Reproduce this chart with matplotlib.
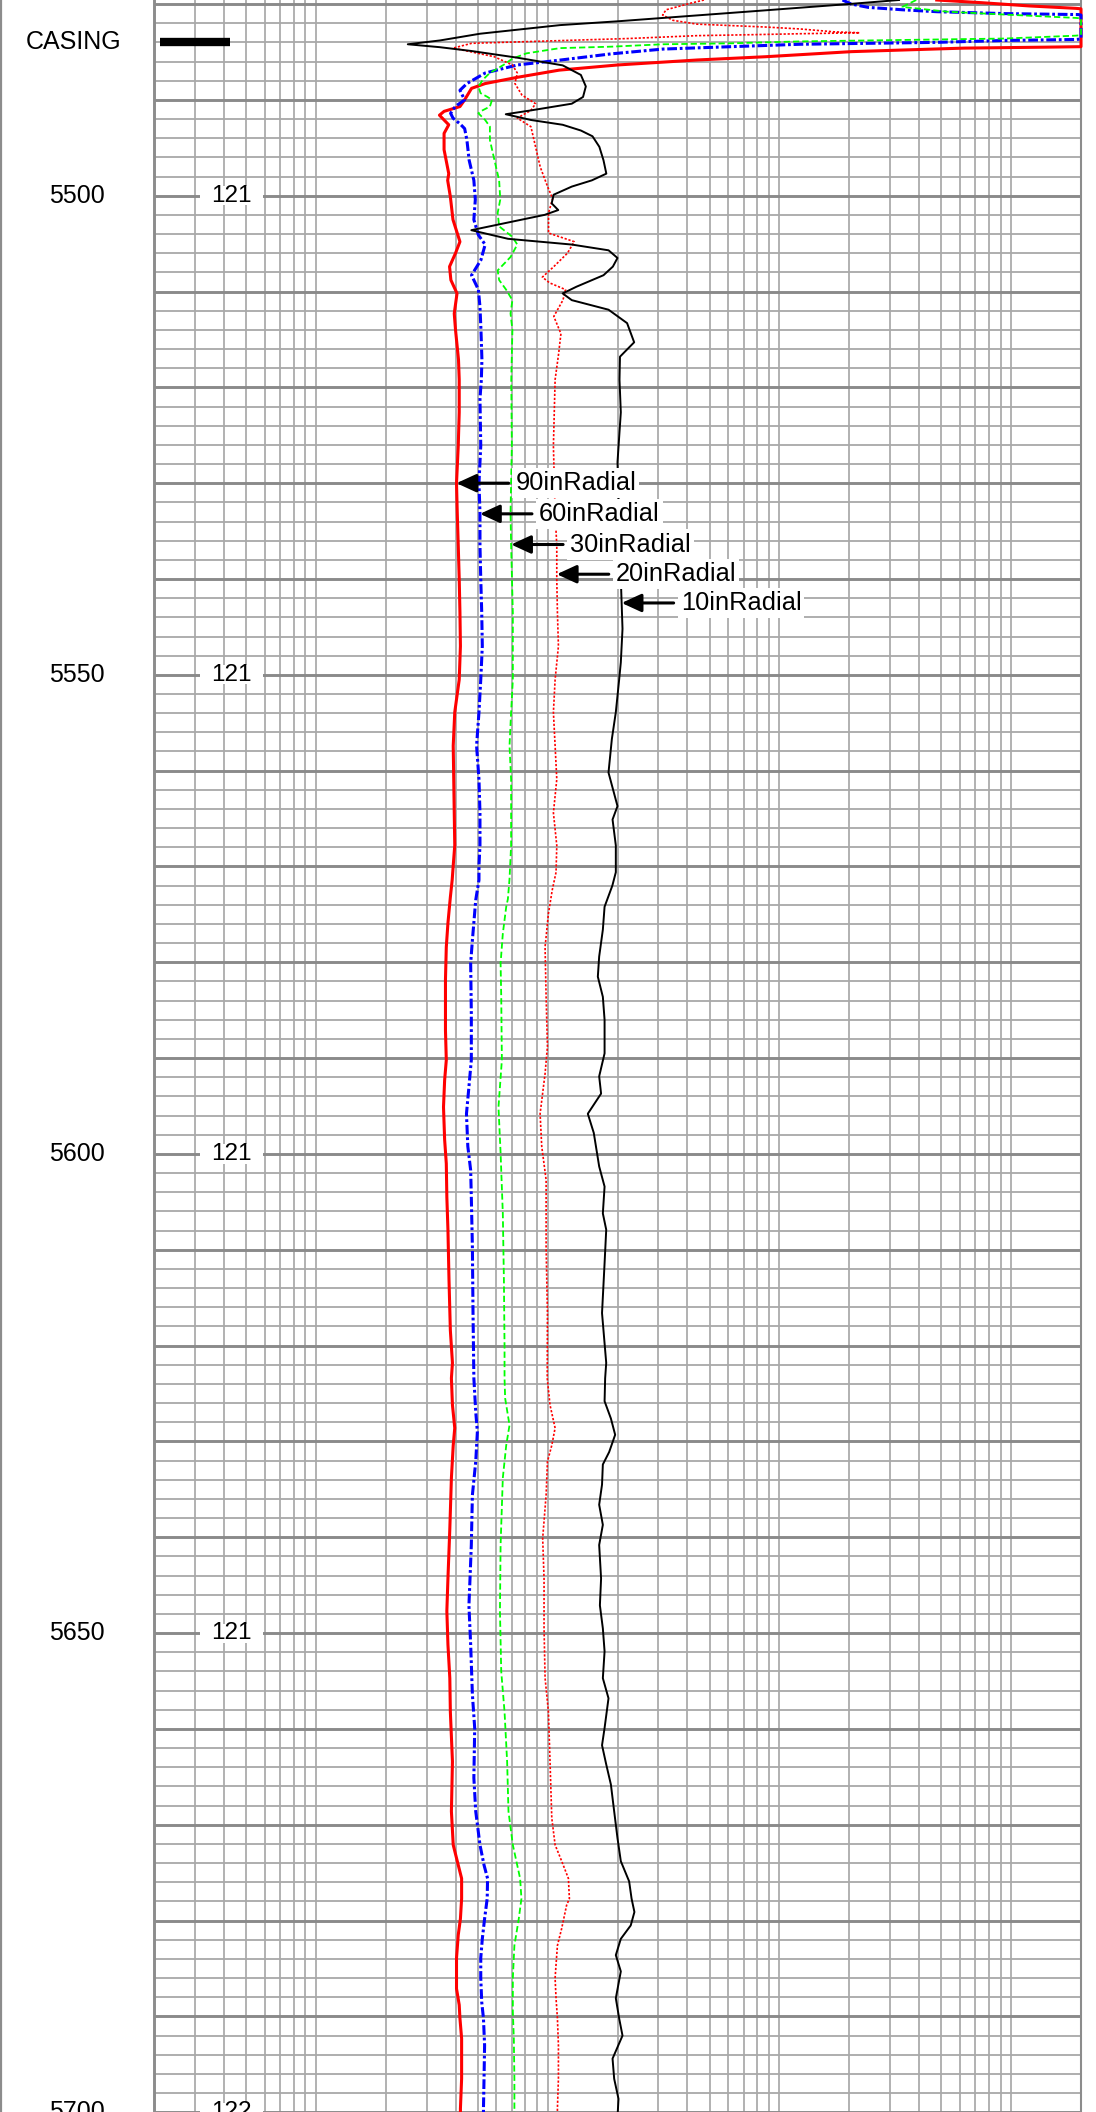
import numpy as np
import matplotlib
matplotlib.use("Agg")
import matplotlib.pyplot as plt
from matplotlib.patches import Rectangle
from matplotlib.transforms import blended_transform_factory

plt.rcParams['font.family'] = ['Liberation Sans', 'DejaVu Sans']
plt.rcParams['lines.scale_dashes'] = False

# ---------------- data ----------------
TOP_DEPTH, BOTTOM_DEPTH = 5479.58, 5699.97
X_MIN, X_MAX = 2, 20000

depth_labels = [5500, 5550, 5600, 5650, 5700]
side_labels = ['121', '121', '121', '121', '122']
casing_depth = 5484.0

curve_names = ['90inRadial', '60inRadial', '30inRadial', '20inRadial', '10inRadial']
label_depths = [5530.0, 5533.2, 5536.4, 5539.5, 5542.5]

depth_90 = [5479.58, 5479.86, 5480.2, 5480.45, 5480.5, 5484.45, 5484.5, 5484.6, 5484.8, 5484.97,
            5485.5, 5485.84, 5486.36, 5486.9, 5487.65, 5488.3, 5488.8, 5490.0, 5490.7, 5491.2,
            5491.6, 5492.1, 5492.6, 5493.5, 5495.2, 5497.7, 5498.4, 5500.1, 5502.5, 5504.8,
            5506.0, 5507.4, 5508.8, 5510.2, 5512.3, 5514.0, 5517.1, 5519.2, 5522.6, 5526.1,
            5530.0, 5533.1, 5536.5, 5540.0, 5543.5, 5547.0, 5550.5, 5553.9, 5557.4, 5560.9,
            5564.4, 5567.8, 5569.9, 5571.4, 5573.2, 5575.9, 5578.4, 5581.8, 5587.1, 5590.2,
            5592.3, 5595.1, 5598.5, 5601.0, 5604.5, 5607.9, 5613.2, 5618.4, 5621.8, 5623.4,
            5626.2, 5628.6, 5630.4, 5633.8, 5639.1, 5644.3, 5647.7, 5651.2, 5654.7, 5658.2,
            5663.4, 5668.6, 5672.1, 5674.2, 5675.6, 5677.7, 5679.8, 5681.5, 5683.9, 5687.1,
            5688.8, 5690.2, 5692.3, 5696.5, 5699.6, 5700.5]
res_90 = [4770, 7440, 11970, 19000, 20000, 20000, 14180, 6270, 3390, 2040,
          870, 441, 200, 112, 73.9, 53.7, 46.9, 43.8, 41.8, 35.7,
          34.1, 35.7, 37.4, 35.7, 35.7, 37.4, 37.0, 38.0, 39.0, 41.8,
          40.0, 37.7, 38.2, 40.6, 39.5, 40.0, 41.2, 41.5, 41.5, 41.1,
          40.4, 40.7, 41.1, 41.5, 41.8, 42.0, 41.5, 39.7, 39.1, 39.3,
          39.5, 39.7, 39.1, 38.7, 38.0, 37.1, 36.5, 36.2, 36.2, 36.5,
          35.9, 35.5, 35.9, 36.5, 36.7, 37.1, 37.5, 38.0, 38.8, 38.4,
          38.8, 39.7, 39.1, 38.4, 37.8, 37.1, 36.7, 37.1, 37.8, 38.0,
          38.8, 38.4, 39.1, 41.1, 42.5, 42.5, 42.0, 41.1, 40.4, 40.4,
          41.5, 41.8, 42.5, 42.5, 42.0, 42.0]

depth_60 = [5479.58, 5480.0, 5480.35, 5480.6, 5480.8, 5481.0, 5481.1, 5481.15, 5483.65, 5483.7,
            5483.8, 5484.0, 5484.1, 5484.2, 5484.45, 5484.7, 5485.2, 5485.84, 5486.36, 5487.2,
            5488.3, 5489.0, 5490.0, 5490.7, 5491.4, 5491.9, 5492.5, 5493.0, 5494.2, 5496.3,
            5498.4, 5500.4, 5502.5, 5504.1, 5505.1, 5506.7, 5508.3, 5509.8, 5511.6, 5514.0,
            5517.1, 5519.2, 5521.2, 5526.1, 5530.0, 5533.1, 5536.5, 5540.0, 5543.5, 5547.0,
            5550.5, 5553.9, 5557.4, 5560.9, 5564.4, 5567.8, 5569.9, 5571.4, 5573.5, 5577.7,
            5580.1, 5585.3, 5590.2, 5593.0, 5595.8, 5599.2, 5601.7, 5604.5, 5609.7, 5616.6,
            5623.4, 5626.9, 5629.0, 5632.1, 5635.6, 5640.8, 5644.3, 5647.1, 5651.2, 5656.4,
            5659.9, 5665.1, 5668.6, 5672.1, 5674.2, 5675.6, 5677.7, 5679.8, 5681.9, 5683.9,
            5686.0, 5688.5, 5690.2, 5693.0, 5696.5, 5699.6, 5700.5]
res_60 = [1870, 2040, 2415, 3390, 4770, 9410, 19500, 20000, 20000, 19000,
          9410, 4770, 2415, 1223, 619, 314, 188, 114, 73.9, 53.7,
          44.8, 41.8, 43.8, 39.9, 38.1, 39.0, 41.8, 43.8, 44.8, 45.8,
          48.0, 48.7, 48.0, 50.2, 53.7, 51.5, 46.9, 50.2, 51.0, 51.5,
          52.0, 51.7, 51.0, 51.4, 50.5, 51.0, 51.0, 51.4, 51.9, 52.2,
          51.4, 50.5, 49.3, 50.5, 51.0, 51.0, 50.5, 50.5, 48.9, 47.3,
          46.5, 46.8, 46.8, 45.7, 44.6, 45.2, 46.5, 46.8, 47.3, 47.6,
          48.0, 48.9, 49.7, 48.9, 47.3, 46.8, 46.2, 45.7, 46.5, 47.3,
          48.4, 48.0, 48.9, 51.0, 53.1, 55.0, 54.8, 53.4, 52.2, 51.4,
          51.4, 51.9, 52.8, 53.4, 53.1, 52.8, 52.8]

depth_30 = [5479.58, 5480.3, 5480.8, 5481.1, 5481.45, 5481.5, 5483.25, 5483.3, 5483.6, 5483.7,
            5483.8, 5483.9, 5484.1, 5484.2, 5484.45, 5484.6, 5485.15, 5485.7, 5486.36, 5487.2,
            5487.9, 5488.6, 5489.3, 5489.7, 5490.0, 5490.7, 5491.2, 5491.4, 5492.1, 5492.8,
            5494.2, 5496.3, 5498.4, 5500.4, 5501.8, 5503.2, 5504.3, 5505.1, 5506.4, 5507.8,
            5508.8, 5509.8, 5510.9, 5512.3, 5514.0, 5519.2, 5526.1, 5533.1, 5536.5, 5543.5,
            5550.5, 5553.9, 5557.4, 5560.9, 5567.8, 5571.3, 5573.4, 5574.2, 5577.0, 5580.1,
            5583.6, 5590.2, 5595.1, 5599.9, 5606.2, 5613.2, 5620.1, 5623.4, 5625.5, 5628.3,
            5630.4, 5633.8, 5640.8, 5647.7, 5654.0, 5658.2, 5663.4, 5668.6, 5672.1, 5675.6,
            5677.7, 5679.8, 5682.6, 5686.0, 5689.5, 5692.3, 5696.5, 5700.5]
res_30 = [3890, 3390, 5280, 9410, 19000, 20000, 20000, 19000, 9410, 4770,
          2415, 1223, 619, 314, 188, 113, 80.9, 70.4, 64.4, 56.2,
          52.5, 50.2, 51.3, 55.0, 57.5, 56.3, 51.3, 50.2, 53.7, 56.3,
          56.3, 58.9, 61.7, 62.4, 60.8, 61.7, 70.4, 73.9, 69.1, 60.8,
          61.7, 66.1, 70.4, 69.1, 70.4, 69.6, 70.0, 69.1, 69.5, 70.7,
          70.7, 69.5, 68.4, 69.5, 69.5, 68.4, 67.3, 66.2, 64.0, 62.6,
          63.0, 63.4, 61.3, 62.6, 64.0, 64.7, 65.1, 65.1, 65.5, 68.4,
          66.2, 64.0, 62.6, 62.2, 63.0, 65.1, 66.8, 67.7, 70.7, 76.0,
          77.0, 75.0, 71.8, 70.7, 70.7, 71.4, 71.8, 71.8]

depth_20 = [5479.58, 5479.93, 5480.6, 5481.15, 5481.7, 5482.1, 5482.4, 5482.6, 5482.9, 5483.0,
            5483.1, 5483.2, 5483.3, 5483.6, 5484.1, 5484.6, 5485.5, 5486.36, 5487.2, 5488.3,
            5489.5, 5490.4, 5491.1, 5491.9, 5492.8, 5494.9, 5497.0, 5499.1, 5500.3, 5501.8,
            5503.9, 5504.8, 5506.0, 5507.4, 5508.5, 5509.1, 5509.8, 5510.9, 5512.6, 5514.4,
            5516.5, 5519.2, 5526.1, 5533.1, 5536.5, 5540.0, 5543.5, 5547.0, 5550.5, 5553.9,
            5557.4, 5560.9, 5564.4, 5567.8, 5570.6, 5572.5, 5574.9, 5578.4, 5583.6, 5588.8,
            5591.6, 5595.8, 5599.2, 5602.7, 5609.7, 5616.6, 5623.4, 5626.2, 5628.6, 5630.4,
            5632.1, 5635.6, 5640.1, 5644.3, 5649.5, 5654.7, 5658.2, 5663.4, 5669.3, 5672.1,
            5673.8, 5675.6, 5677.7, 5678.4, 5680.8, 5682.6, 5684.6, 5686.0, 5688.1, 5690.2,
            5693.0, 5696.5, 5699.6, 5700.5]
res_20 = [472, 411, 324, 313, 347, 441, 870, 1223, 1718, 2218,
          1223, 761, 441, 223, 46.9, 39.1, 58.8, 70.4, 73.9, 72.2,
          77.4, 88.6, 84.6, 73.9, 84.6, 88.6, 92.8, 100.0, 105.0, 100.8,
          100.8, 130.1, 121.6, 106.2, 94.8, 101.9, 119.3, 116.3, 106.2, 114.0,
          111.4, 107.6, 105.8, 107.6, 109.4, 109.4, 110.1, 111.2, 107.6, 105.8,
          107.6, 109.4, 105.8, 109.4, 108.6, 104.5, 100.7, 97.4, 98.4, 99.7,
          97.4, 92.7, 94.2, 98.4, 98.4, 99.7, 99.5, 102.3, 107.6, 104.1,
          99.7, 98.4, 95.1, 96.4, 96.4, 97.4, 100.7, 102.3, 104.1, 107.6,
          114.9, 122.8, 124.0, 120.6, 114.9, 110.1, 108.6, 107.6, 108.6, 110.1,
          111.2, 111.2, 110.1, 110.1]

depth_10 = [5479.58, 5480.0, 5480.7, 5481.8, 5482.2, 5483.1, 5483.8, 5484.2, 5484.5, 5484.9,
            5485.6, 5486.4, 5487.4, 5488.6, 5489.7, 5490.4, 5491.1, 5491.5, 5492.1, 5492.6,
            5493.2, 5493.8, 5494.9, 5496.3, 5497.7, 5498.4, 5499.05, 5499.9, 5500.8, 5501.5,
            5502.0, 5503.6, 5504.5, 5505.1, 5505.7, 5506.5, 5507.4, 5508.3, 5509.5, 5510.2,
            5510.9, 5511.9, 5513.3, 5515.3, 5516.8, 5519.2, 5522.6, 5527.8, 5540.0, 5545.2,
            5548.7, 5550.5, 5553.9, 5556.7, 5560.2, 5563.7, 5565.1, 5567.8, 5570.6, 5572.0,
            5574.2, 5576.6, 5579.4, 5581.5, 5583.6, 5586.0, 5589.5, 5591.9, 5593.7, 5595.8,
            5597.8, 5601.3, 5603.4, 5606.2, 5607.9, 5611.4, 5616.6, 5621.8, 5623.4, 5625.8,
            5627.6, 5629.3, 5631.1, 5632.4, 5634.5, 5636.6, 5638.7, 5640.8, 5644.3, 5647.1,
            5649.5, 5651.9, 5654.7, 5656.8, 5659.9, 5661.7, 5663.7, 5665.8, 5668.6, 5671.4,
            5673.8, 5675.9, 5677.7, 5679.1, 5680.5, 5681.9, 5683.6, 5685.3, 5688.1, 5690.2,
            5692.0, 5694.4, 5696.5, 5698.6, 5700.5]
res_10 = [3280, 1995, 824, 201, 113, 51.0, 34.3, 24.9, 34.1, 46.8,
          73.9, 116, 139, 146, 142, 127, 84.6, 65.9, 84.6, 116,
          139, 156, 167, 174, 179, 155, 127, 106, 104, 111,
          97, 46.8, 67.4, 127, 183, 200, 191, 174, 133, 116,
          127, 183, 220, 236, 205, 204, 206.7, 200, 206.7, 210.2,
          206.7, 203.3, 196.7, 189.1, 182.9, 200, 190.4, 196.7, 196.7, 190,
          175.9, 172.9, 166.7, 164.5, 172.9, 175.9, 175.9, 166.7, 169.9, 148.9,
          158.0, 166.7, 175.9, 172.9, 178.8, 175.9, 171.5, 178.8, 176.9, 175.9,
          187.3, 195.4, 184.1, 172.9, 171.5, 166.7, 172.9, 166.7, 169.9, 167.9,
          172.9, 175.9, 172.9, 182.9, 175.9, 171.5, 178.8, 187.3, 193.5, 200,
          206.7, 224.5, 230, 236.6, 228.1, 206.7, 196.7, 206.7, 196.7, 203.3,
          210.2, 190.4, 193.5, 202, 200]

# ---------------- figure ----------------
W, H, DPI = 1096, 2112, 100
fig = plt.figure(figsize=(W / DPI, H / DPI), dpi=DPI)
fig.patch.set_facecolor('white')

TRACK_L, TRACK_R = 154, 1081
track_w = TRACK_R - TRACK_L

# depth track
axd = fig.add_axes([0, 0, TRACK_L / W, 1])
axd.set_xlim(0, TRACK_L)
axd.set_ylim(BOTTOM_DEPTH, TOP_DEPTH)
axd.axis('off')
axd.axvline(1.2, color='#8c8c8c', lw=1.6)
for d in depth_labels:
    axd.text(77, d, str(d), ha='center', va='center', fontsize=18, color='black')
axd.text(74, casing_depth, 'CASING', ha='center', va='center', fontsize=18, color='black')

# log track
ax = fig.add_axes([TRACK_L / W, 0, track_w / W, 1])
ax.set_xscale('log')
ax.set_xlim(X_MIN, X_MAX)
ax.set_ylim(BOTTOM_DEPTH, TOP_DEPTH)
ax.set_xticks([])
ax.set_yticks([])
ax.minorticks_off()
for s in ['top', 'bottom']:
    ax.spines[s].set_visible(False)
ax.spines['left'].set_color('#8c8c8c')
ax.spines['left'].set_linewidth(2.1)
ax.spines['right'].set_color('#8c8c8c')
ax.spines['right'].set_linewidth(1.5)
ax.spines['left'].set_zorder(5)

# vertical log grid
vgrid = sorted({k * 10 ** n for n in range(0, 5) for k in range(1, 10)
                if X_MIN < k * 10 ** n < X_MAX})
for v in vgrid:
    ax.axvline(v, color='#a8a8a8', lw=1.25, zorder=1)
# horizontal grid
for d in np.arange(5480, 5701, 2):
    if int(d) % 10 == 0:
        ax.axhline(d, color='#8a8a8a', lw=2.1, zorder=1.2)
    else:
        ax.axhline(d, color='#a8a8a8', lw=1.3, zorder=1.1)

trans = blended_transform_factory(ax.transAxes, ax.transData)

# side labels (121 / 122) with white gap
for d, s in zip(depth_labels, side_labels):
    ax.add_patch(Rectangle((46 / track_w, d - 1.0), 63 / track_w, 2.0, transform=trans,
                           facecolor='white', edgecolor='none', zorder=2.5))
    ax.text(77 / track_w, d, s, transform=trans, ha='center', va='center',
            fontsize=17.5, color='black', zorder=3)

# casing marker
ax.plot([6 / track_w, 76 / track_w], [casing_depth, casing_depth], transform=trans,
        color='black', lw=6, solid_capstyle='butt', zorder=3, clip_on=False)

# curves
curves = [
    (depth_90, res_90, dict(color='#ff0000', lw=2.2, linestyle='-')),
    (depth_60, res_60, dict(color='#0000ff', lw=2.2, linestyle=(0, (7, 2, 2, 2)))),
    (depth_30, res_30, dict(color='#00ff00', lw=1.3, linestyle=(0, (4.5, 2.2)))),
    (depth_20, res_20, dict(color='#ff0000', lw=1.2, linestyle=(0, (1.6, 1.3)))),
    (depth_10, res_10, dict(color='black', lw=1.4, linestyle='-')),
]
for dep, val, style in curves:
    ax.plot(val, dep, zorder=3, clip_on=False, **style)

# annotations
for (dep, val, _), name, d in zip(curves, curve_names, label_depths):
    v = np.interp(d, dep, val)
    ax.annotate('', xy=(v, d), xytext=(52, 0), textcoords='offset pixels',
                arrowprops=dict(arrowstyle='-|>,head_length=0.5,head_width=0.23',
                                color='black', lw=2.2, shrinkA=0, shrinkB=0,
                                mutation_scale=24),
                zorder=5)
    ax.annotate(name, xy=(v, d), xytext=(59, 0), textcoords='offset pixels',
                ha='left', va='center', fontsize=18.3, color='black', zorder=6,
                bbox=dict(boxstyle='square,pad=0.12', facecolor='white', edgecolor='none'))

fig.savefig('out.png', dpi=DPI, facecolor='white')
